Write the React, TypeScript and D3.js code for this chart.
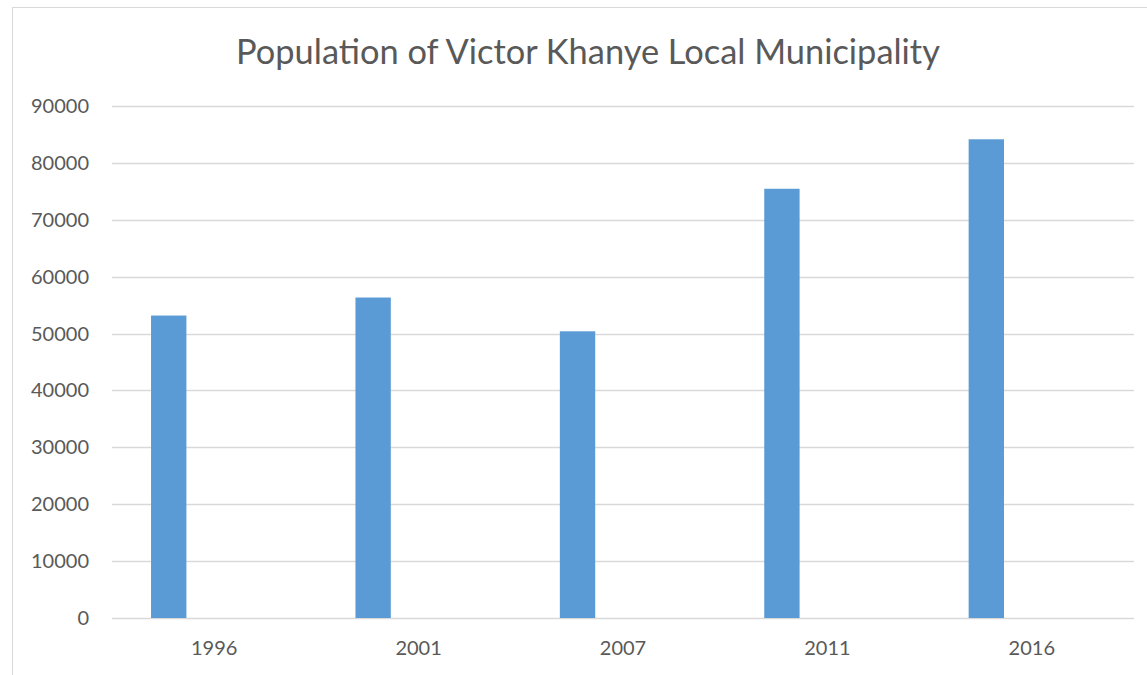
import * as d3 from "d3";
import { useEffect, useRef } from "react";

const years = ["1996", "2001", "2007", "2011", "2016"];
const population = [53164, 56335, 50400, 75452, 84151];
const yTicks = [0, 10000, 20000, 30000, 40000, 50000, 60000, 70000, 80000, 90000];
const chartTitle = "Population of Victor Khanye Local Municipality";

const W = 1147, H = 675;
const margin = { top: 106, right: 13, bottom: 57, left: 112 };

const App = () => {
    const ref = useRef<SVGSVGElement>(null);

    useEffect(() => {
        const svg = d3.select(ref.current);
        svg.selectAll("*").remove();

        const innerW = W - margin.left - margin.right;
        const innerH = H - margin.top - margin.bottom;

        // outer chart frame, runs past the right and bottom edges
        svg.append("rect")
            .attr("x", 12.5).attr("y", 7.5)
            .attr("width", W + 20).attr("height", H + 20)
            .attr("fill", "white")
            .attr("stroke", "#D9D9D9")
            .attr("stroke-width", 1);

        const x = d3.scaleBand().domain(years).range([0, innerW]).paddingInner(0).paddingOuter(0);
        const y = d3.scaleLinear().domain([0, 90000]).range([innerH, 0]);

        const g = svg.append("g").attr("transform", "translate(" + margin.left + "," + margin.top + ")");

        g.selectAll("line.grid")
            .data(yTicks)
            .enter()
            .append("line")
            .attr("class", "grid")
            .attr("x1", 0).attr("x2", innerW)
            .attr("y1", d => Math.round(y(d)) + 0.5)
            .attr("y2", d => Math.round(y(d)) + 0.5)
            .attr("stroke", "#D9D9D9")
            .attr("stroke-width", 1.5);

        g.selectAll("text.ytick")
            .data(yTicks)
            .enter()
            .append("text")
            .attr("class", "ytick")
            .attr("x", -23)
            .attr("y", d => y(d))
            .attr("dy", "0.35em")
            .attr("text-anchor", "end")
            .attr("fill", "#595959")
            .style("font-family", "Lato, 'Open Sans', sans-serif")
            .style("font-size", "20px")
            .text(d => d);

        // first series sits left in each category slot (second series is empty)
        const bw = x.bandwidth();
        g.selectAll("rect.bar")
            .data(population)
            .enter()
            .append("rect")
            .attr("class", "bar")
            .attr("x", (d, i) => (x(years[i]) as number) + bw * 0.191)
            .attr("width", bw * 0.173)
            .attr("y", d => y(d))
            .attr("height", d => innerH - y(d))
            .attr("fill", "#5B9BD5");

        g.selectAll("text.xtick")
            .data(years)
            .enter()
            .append("text")
            .attr("class", "xtick")
            .attr("x", d => (x(d) as number) + bw / 2)
            .attr("y", innerH + 37)
            .attr("text-anchor", "middle")
            .attr("fill", "#595959")
            .style("font-family", "Lato, 'Open Sans', sans-serif")
            .style("font-size", "20px")
            .text(d => d);

        const title = svg.append("text")
            .attr("x", 588)
            .attr("y", 64)
            .attr("text-anchor", "middle")
            .attr("fill", "#595959")
            .style("font-family", "Lato, 'Open Sans', sans-serif")
            .style("font-size", "33px")
            .text(chartTitle);

        // scale title font so its width matches the original (~704px)
        const len = (title.node() as SVGTextElement).getComputedTextLength();
        if (len > 0) title.style("font-size", (33 * 704 / len).toFixed(1) + "px");
    });

    return (
        <svg ref={ref} width={W} height={H} style={{ position: "absolute", left: 0, top: 0 }} />
    );
};

export default App;
